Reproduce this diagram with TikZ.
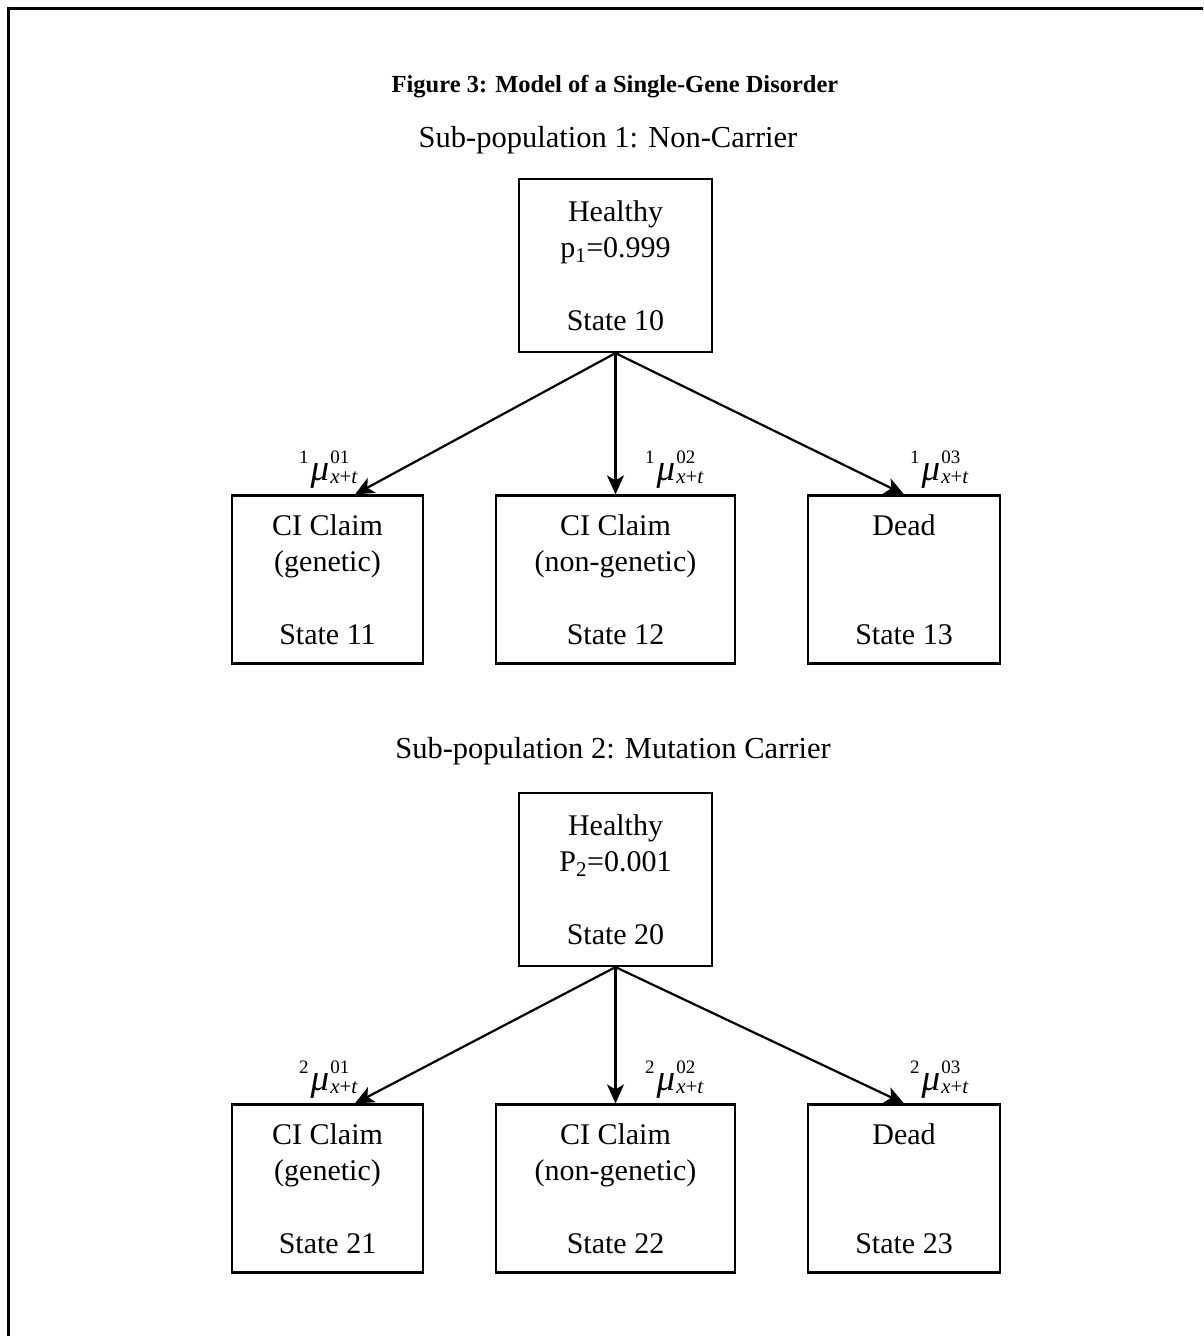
\documentclass[tikz,border=0pt]{standalone}
\usepackage{fontspec}
\setmainfont{Liberation Serif}
\usetikzlibrary{arrows.meta,calc}

% transition intensity label: prefix, superscript pair
\newcommand\ratemu[2]{%
  \raisebox{17pt}{\fontsize{19}{19}\selectfont #1}\kern2pt%
  {\fontsize{37}{37}\selectfont\itshape μ}\kern1pt%
  \rlap{\raisebox{17pt}{\fontsize{19}{19}\selectfont #2}}%
  \raisebox{-3pt}{\fontsize{21}{21}\selectfont\itshape x\upshape+\itshape t}}

\begin{document}
\begin{tikzpicture}[x=1pt,y=-1pt,
  statebox/.style={draw, line width=2.2pt, align=center, inner sep=0pt,
    font=\fontsize{30}{36.5}\selectfont},
  topbox/.style={statebox, minimum width=193pt, minimum height=173pt},
  lowbox/.style={statebox, minimum height=168pt},
  heading/.style={anchor=base, inner sep=0pt},
  rate/.style={anchor=base west, inner sep=0pt},
  trans/.style={line width=2.2pt, -{Stealth[length=19pt,width=17pt,inset=5pt]}},
  frame/.style={line width=3pt}]

\useasboundingbox (0,0) rectangle (1203,1336);
\draw[frame] (8,1336) |- (1203,8);

% headings
\node[heading, font=\bfseries\fontsize{24.5}{24.5}\selectfont] (title) at (615,92)
  {Figure 3: Model of a Single-Gene Disorder};
\node[heading, font=\fontsize{30.5}{30.5}\selectfont] (sub1) at (608,147)
  {Sub-population 1: Non-Carrier};
\node[heading, font=\fontsize{30.5}{30.5}\selectfont] (sub2) at (613,758)
  {Sub-population 2: Mutation Carrier};

% sub-population 1
\node[topbox] (s10) at (615.5,265.5) {Healthy\\p\textsubscript{1}=0.999\\\strut\\State 10};
\node[lowbox, minimum width=191pt] (s11) at (327.5,579.5) {CI Claim\\(genetic)\\\strut\\State 11};
\node[lowbox, minimum width=239pt] (s12) at (615.5,579.5) {CI Claim\\(non-genetic)\\\strut\\State 12};
\node[lowbox, minimum width=192pt] (s13) at (904,579.5) {Dead\\\strut\\\strut\\State 13};

\coordinate (e11) at ($(s11.north)+(27.5,0)$);
\draw[trans] (s10.south) -- (e11);
\draw[trans] (s10.south) -- (s12.north);
\draw[trans] (s10.south) -- (s13.north);

\node[rate] (r11) at (299,480) {\ratemu{1}{01}};
\node[rate] (r12) at (645,480) {\ratemu{1}{02}};
\node[rate] (r13) at (910,480) {\ratemu{1}{03}};

% sub-population 2
\node[topbox] (s20) at (615.5,879.5) {Healthy\\P\textsubscript{2}=0.001\\\strut\\State 20};
\node[lowbox, minimum width=191pt] (s21) at (327.5,1188.5) {CI Claim\\(genetic)\\\strut\\State 21};
\node[lowbox, minimum width=239pt] (s22) at (615.5,1188.5) {CI Claim\\(non-genetic)\\\strut\\State 22};
\node[lowbox, minimum width=192pt] (s23) at (904,1188.5) {Dead\\\strut\\\strut\\State 23};

\coordinate (e21) at ($(s21.north)+(27.5,0)$);
\draw[trans] (s20.south) -- (e21);
\draw[trans] (s20.south) -- (s22.north);
\draw[trans] (s20.south) -- (s23.north);

\node[rate] (r21) at (299,1090) {\ratemu{2}{01}};
\node[rate] (r22) at (645,1090) {\ratemu{2}{02}};
\node[rate] (r23) at (910,1090) {\ratemu{2}{03}};
\end{tikzpicture}
\end{document}
